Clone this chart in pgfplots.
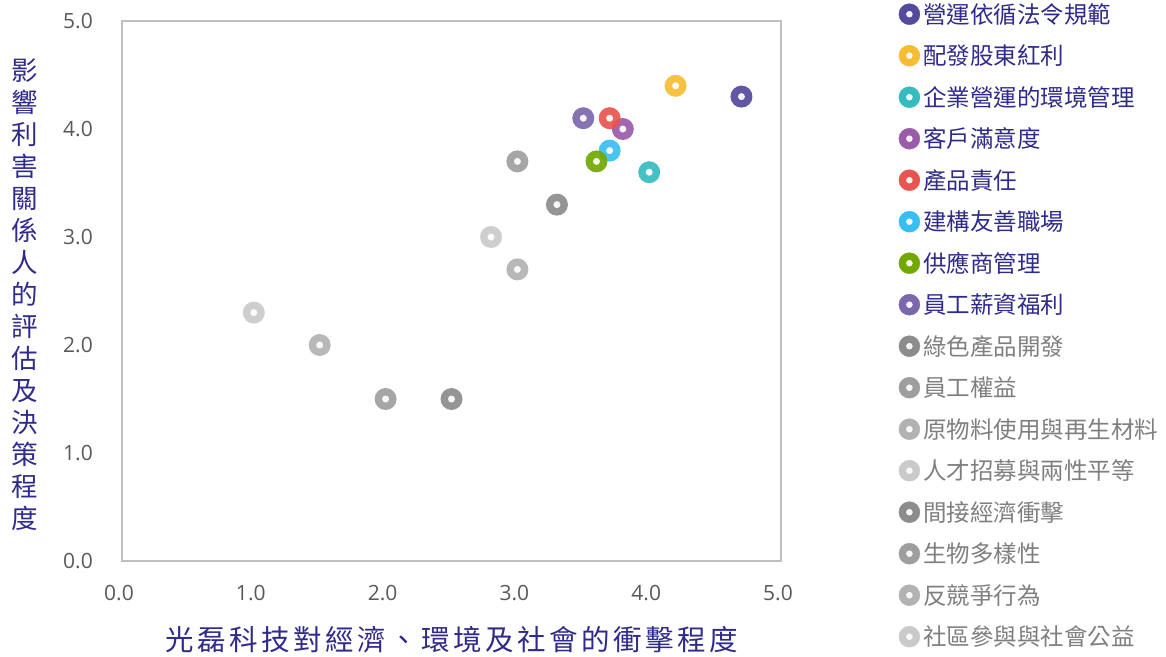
\documentclass[border=0pt]{standalone}
\usepackage{pgfplots}
\pgfplotsset{compat=1.18}
\usepackage{fontspec}
\setmainfont{Noto Sans CJK TC}
\newfontfamily\tickfont{Open Sans}
\newcommand\ls{\hspace{3.5pt}}
\definecolor{ink}{HTML}{2F2B8A}
\definecolor{tickgray}{HTML}{595959}
\definecolor{leggray}{HTML}{7F7F7F}
\definecolor{framegray}{HTML}{BFBFBF}
\definecolor{c1}{HTML}{524A9B}
\definecolor{c2}{HTML}{F6BC34}
\definecolor{c3}{HTML}{36BBBF}
\definecolor{c4}{HTML}{9A5BA8}
\definecolor{c5}{HTML}{E85450}
\definecolor{c6}{HTML}{38BFF2}
\definecolor{c7}{HTML}{72A800}
\definecolor{c8}{HTML}{7B67AB}
\definecolor{gA}{HTML}{8C8C8C}
\definecolor{gB}{HTML}{9E9E9E}
\definecolor{gC}{HTML}{B2B2B2}
\definecolor{gD}{HTML}{CACACA}

\pgfdeclareplotmark{ring}{%
  \pgfpathcircle{\pgfpointorigin}{11pt}\pgfusepathqfill
  \pgfsetfillcolor{white}%
  \pgfpathcircle{\pgfpointorigin}{3.5pt}\pgfusepathqfill
}

\pgfplotsset{
  ringplot/.style={
    only marks, mark=ring, color=#1, fill opacity=0.92,
  },
  ring legend/.style={
    legend image code/.code={
      \fill[##1, fill opacity=1] (10.5pt,0pt) circle (10.5pt);
      \fill[white] (10.5pt,0pt) circle (3pt);
    },
  },
}

\begin{document}
\begin{tikzpicture}
\begin{axis}[
  scale only axis,
  width=659pt, height=540pt,
  xmin=0, xmax=5, ymin=0, ymax=5,
  xtick={0,1,2,3,4,5},
  ytick={0,1,2,3,4,5},
  major tick length=0pt,
  tick style={draw=none},
  axis line style={draw=framegray, line width=1.5pt},
  /pgf/number format/.cd, fixed, fixed zerofill, precision=1,
  assume math mode=true,
  /pgfplots/.cd,
  tick label style={font=\tickfont\fontsize{21}{24}\selectfont, text=tickgray, inner sep=0pt},
  xticklabel style={anchor=center, yshift=-32pt, xshift=-3pt},
  yticklabel style={anchor=east, xshift=-29pt},
  xlabel={光\ls 磊\ls 科\ls 技\ls 對\ls 經\ls 濟\ls 、\ls 環\ls 境\ls 及\ls 社\ls 會\ls 的\ls 衝\ls 擊\ls 程\ls 度},
  xlabel style={at={(rel axis cs:0.5,0)}, anchor=center, yshift=-79pt,
    font=\fontsize{28.5}{30}\selectfont, text=ink},
  ylabel={影\\響\\利\\害\\關\\係\\人\\的\\評\\估\\及\\決\\策\\程\\度},
  ylabel style={rotate=-90, at={(rel axis cs:0,0.5)}, anchor=center,
    xshift=-97pt, yshift=-4pt,
    align=center, font=\fontsize{26.5}{32}\selectfont, text=ink},
  legend style={
    draw=none, fill=none, inner sep=0pt,
    at={(1.1783,1.0352)}, anchor=north west,
    font=\fontsize{23.5}{26}\selectfont,
    row sep=17.5pt,
    nodes={inner sep=0pt, text height=20.8pt, text depth=3.2pt},
    /tikz/every odd column/.append style={column sep=3pt},
  },
  legend cell align=left,
  ring legend,
  clip=false,
]
\addplot[ringplot=c1] coordinates {(4.7,4.3)};
\addlegendentry[text=ink]{營運依循法令規範}
\addplot[ringplot=c2] coordinates {(4.2,4.4)};
\addlegendentry[text=ink]{配發股東紅利}
\addplot[ringplot=c3] coordinates {(4.0,3.6)};
\addlegendentry[text=ink]{企業營運的環境管理}
\addplot[ringplot=c4] coordinates {(3.8,4.0)};
\addlegendentry[text=ink]{客戶滿意度}
\addplot[ringplot=c5] coordinates {(3.7,4.1)};
\addlegendentry[text=ink]{產品責任}
\addplot[ringplot=c6] coordinates {(3.7,3.8)};
\addlegendentry[text=ink]{建構友善職場}
\addplot[ringplot=c7] coordinates {(3.6,3.7)};
\addlegendentry[text=ink]{供應商管理}
\addplot[ringplot=c8] coordinates {(3.5,4.1)};
\addlegendentry[text=ink]{員工薪資福利}
\addplot[ringplot=gA] coordinates {(3.3,3.3)};
\addlegendentry[text=leggray]{綠色產品開發}
\addplot[ringplot=gB] coordinates {(3.0,3.7)};
\addlegendentry[text=leggray]{員工權益}
\addplot[ringplot=gC] coordinates {(3.0,2.7)};
\addlegendentry[text=leggray]{原物料使用與再生材料}
\addplot[ringplot=gD] coordinates {(2.8,3.0)};
\addlegendentry[text=leggray]{人才招募與兩性平等}
\addplot[ringplot=gA] coordinates {(2.5,1.5)};
\addlegendentry[text=leggray]{間接經濟衝擊}
\addplot[ringplot=gB] coordinates {(2.0,1.5)};
\addlegendentry[text=leggray]{生物多樣性}
\addplot[ringplot=gC] coordinates {(1.5,2.0)};
\addlegendentry[text=leggray]{反競爭行為}
\addplot[ringplot=gD] coordinates {(1.0,2.3)};
\addlegendentry[text=leggray]{社區參與與社會公益}
\end{axis}
\pgfresetboundingbox
\path (-122pt,-95pt) rectangle (1044pt,561pt);
\end{tikzpicture}
\end{document}
